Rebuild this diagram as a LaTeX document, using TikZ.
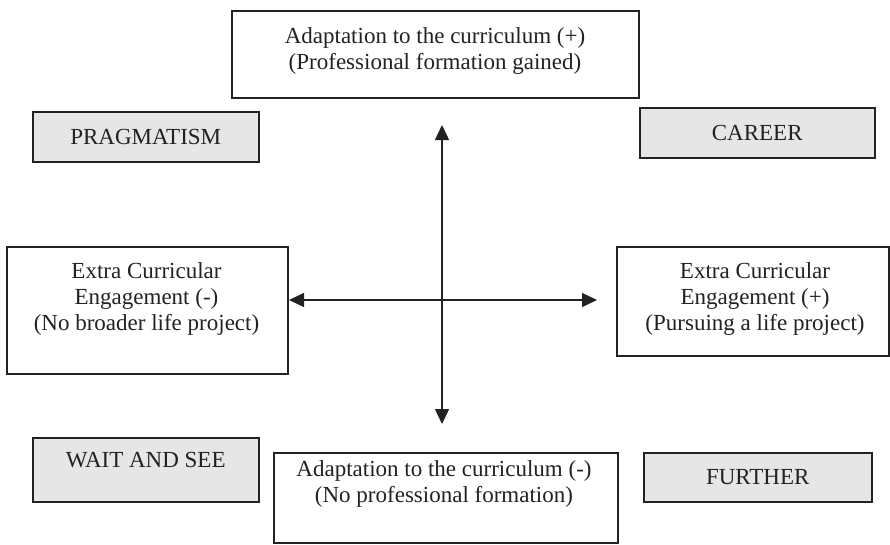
\documentclass[tikz,border=0pt]{standalone}
\usepackage{fontspec}
\setmainfont{Liberation Serif}
\usetikzlibrary{arrows.meta}
\definecolor{boxgray}{HTML}{E6E6E6}
\definecolor{ink}{HTML}{222222}
\begin{document}
\begin{tikzpicture}[x=1pt,y=-1pt,
  box/.style={draw=ink, line width=1.5pt, fill=white, inner sep=0pt, anchor=north west},
  graybox/.style={box, fill=boxgray, font=\fontsize{23}{26}\selectfont, text=ink},
  txt/.style={inner sep=0pt, align=center, anchor=north, font=\fontsize{23}{26}\selectfont, text=ink},
  axisline/.style={draw=ink, line width=1.4pt, {Triangle[length=15pt,width=14pt]}-{Triangle[length=15pt,width=14pt]}}]
\useasboundingbox (0,0) rectangle (890,544);

% boxes
\node[box, minimum width=407pt, minimum height=87pt] (top) at (231,10) {};
\node[graybox, minimum width=226pt, minimum height=50pt] (prag) at (32,111) {PRAGMATISM};
\node[graybox, minimum width=235pt, minimum height=50pt] (career) at (639,107) {CAREER};
\node[box, minimum width=281pt, minimum height=127pt] (left) at (6,246) {};
\node[box, minimum width=272pt, minimum height=109pt] (right) at (616,246) {};
\node[graybox, minimum width=226pt, minimum height=64pt, text height=15pt, text depth=19pt] (wait) at (32,437) {WAIT AND SEE};
\node[box, minimum width=344pt, minimum height=90pt] (bottom) at (273,452) {};
\node[graybox, minimum width=228pt, minimum height=49pt] (further) at (643,452) {FURTHER};

% texts
\node[txt] (ttop) at (435,27) {Adaptation to the curriculum (+)\\(Professional formation gained)};
\node[txt] (tleft) at (146.5,262) {Extra Curricular\\Engagement (-)\\(No broader life project)};
\node[txt] (tright) at (755,262) {Extra Curricular\\Engagement (+)\\(Pursuing a life project)};
\node[txt] (tbottom) at (444,460) {Adaptation to the curriculum (-)\\(No professional formation)};

% axes
\coordinate (vtop) at (442,125);
\coordinate (vbot) at (442,424);
\coordinate (hl) at (289,300);
\coordinate (hr) at (597,300);
\draw[axisline] (vtop) -- (vbot);
\draw[axisline] (hl) -- (hr);
\end{tikzpicture}
\end{document}
